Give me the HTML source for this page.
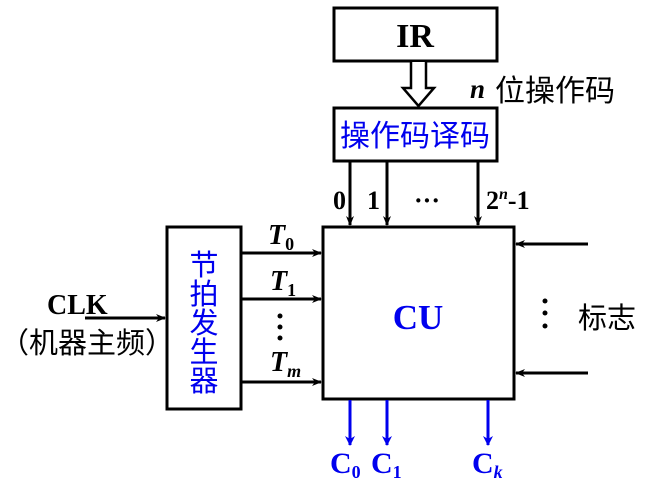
<!DOCTYPE html>
<html><head><meta charset="utf-8"><style>body{margin:0;background:#fff}svg{display:block}</style></head><body>
<svg width="650" height="484" viewBox="0 0 650 484" xmlns="http://www.w3.org/2000/svg">
<defs>
<marker id="a" markerWidth="10" markerHeight="8" refX="9" refY="4" orient="auto" markerUnits="userSpaceOnUse"><path d="M0,0 L10,4 L0,8 L3,4 Z" fill="#000"/></marker>
<marker id="b" markerWidth="10" markerHeight="10" refX="9" refY="5" orient="auto" markerUnits="userSpaceOnUse"><path d="M0,0 L10,5 L0,10 L3,5 Z" fill="#0000ee"/></marker>
</defs>
<g fill="none" stroke="#000" stroke-width="3">
<rect x="334" y="8" width="163" height="53"/>
<rect x="334" y="108" width="163" height="53"/>
<rect x="323" y="227" width="191" height="172"/>
<rect x="167" y="227" width="74" height="182"/>
</g>
<path d="M411,62 V88 H403 L418.5,106 L434,88 H426 V62" fill="#fff" stroke="#000" stroke-width="2.5"/>
<g stroke="#000" stroke-width="3" marker-end="url(#a)">
<line x1="350" y1="162" x2="350" y2="225"/>
<line x1="387" y1="162" x2="387" y2="225"/>
<line x1="478" y1="162" x2="478" y2="225"/>
<line x1="241" y1="253" x2="321" y2="253"/>
<line x1="241" y1="299" x2="321" y2="299"/>
<line x1="241" y1="382" x2="321" y2="382"/>
<line x1="85" y1="318" x2="165" y2="318"/>
<line x1="588" y1="244" x2="516" y2="244"/>
<line x1="588" y1="373" x2="516" y2="373"/>
</g>
<g stroke="#0000ee" stroke-width="3" marker-end="url(#b)">
<line x1="350" y1="400" x2="350" y2="445"/>
<line x1="387" y1="400" x2="387" y2="445"/>
<line x1="488" y1="400" x2="488" y2="445"/>
</g>
<g font-family="Liberation Serif, serif" font-weight="bold" fill="#000">
<text x="415" y="47" font-size="34" text-anchor="middle">IR</text>
<text x="470" y="98" font-size="27" font-style="italic">n</text>
<text x="333" y="209" font-size="26">0</text>
<text x="367" y="209" font-size="26">1</text>
<text x="414" y="209" font-size="26">···</text>
<text x="486" y="209" font-size="26">2<tspan font-size="16" dy="-10" font-style="italic">n</tspan><tspan dy="10">-1</tspan></text>
<text x="268" y="244" font-size="28" font-style="italic">T<tspan font-size="18" dy="6" font-style="normal">0</tspan></text>
<text x="270" y="290" font-size="28" font-style="italic">T<tspan font-size="18" dy="6" font-style="normal">1</tspan></text>
<text x="270" y="371" font-size="28" font-style="italic">T<tspan font-size="18" dy="6">m</tspan></text>
<text x="47" y="314" font-size="28">CLK</text>
</g>
<g fill="#000"><circle cx="280" cy="316" r="2.5"/><circle cx="280" cy="327" r="2.5"/><circle cx="280" cy="338" r="2.5"/>
<circle cx="545" cy="301" r="2.5"/><circle cx="545" cy="313" r="2.5"/><circle cx="545" cy="326" r="2.5"/></g>
<g font-family="Liberation Serif, serif" font-weight="bold" fill="#0000ee">
<text x="418" y="329" font-size="35" text-anchor="middle">CU</text>
<text x="330" y="473" font-size="30">C<tspan font-size="18" dy="5">0</tspan></text>
<text x="371" y="473" font-size="30">C<tspan font-size="18" dy="5">1</tspan></text>
<text x="472" y="473" font-size="30">C<tspan font-size="18" dy="5" font-style="italic">k</tspan></text>
</g>
<g font-family="Liberation Sans, Noto Sans CJK SC, sans-serif" fill="#000" font-size="29">
<text x="495" y="101" font-size="30">位操作码</text>
<text x="578" y="328">标志</text>
<text x="0" y="353">（机器主频）</text>
</g>
<g font-family="Liberation Sans, Noto Sans CJK SC, sans-serif" fill="#0000ee" font-size="29">
<text x="415" y="146" text-anchor="middle" font-size="30">操作码译码</text>
<text x="204" y="275" text-anchor="middle">节</text>
<text x="204" y="304" text-anchor="middle">拍</text>
<text x="204" y="333" text-anchor="middle">发</text>
<text x="204" y="362" text-anchor="middle">生</text>
<text x="204" y="391" text-anchor="middle">器</text>
</g>
</svg>
</body></html>
